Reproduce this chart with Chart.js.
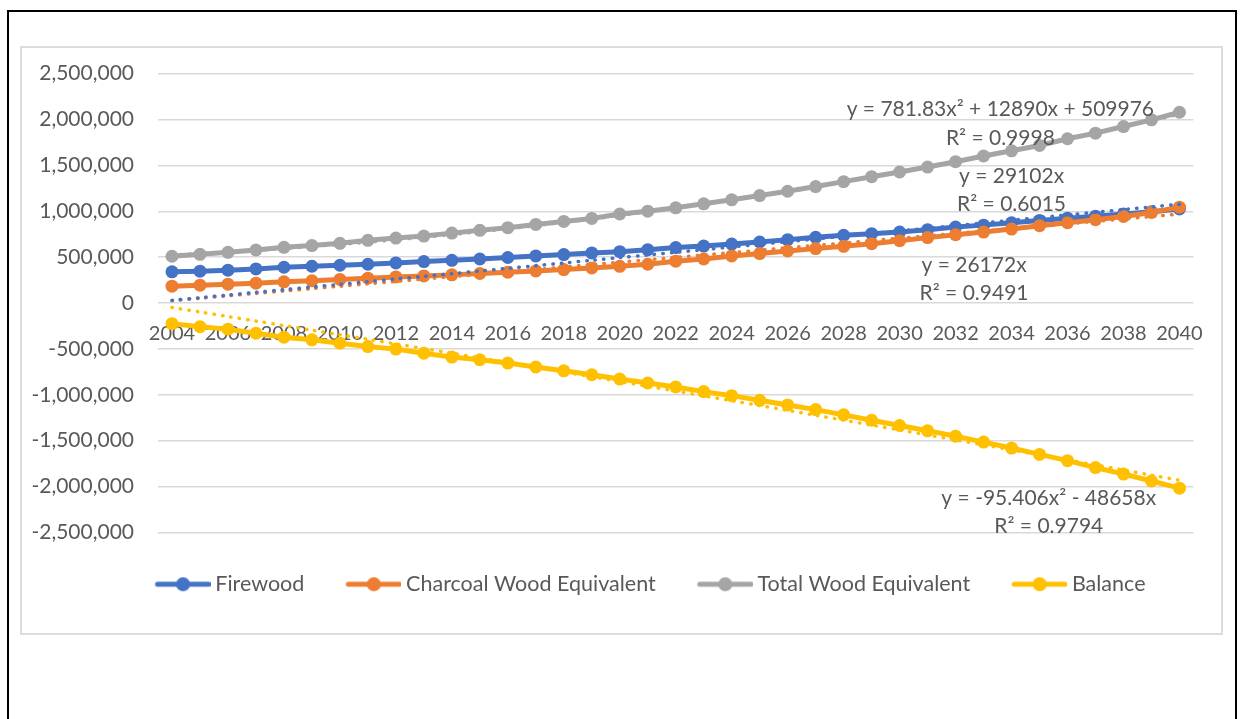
<!DOCTYPE html>
<html>
<head>
<meta charset="utf-8">
<script src="https://cdn.jsdelivr.net/npm/chart.js@4.4.1/dist/chart.umd.min.js"></script>
<style>
  body { margin: 0; background: #fff; }
  #frame { position: absolute; left: 7px; top: 10px; width: 1226px; height: 760px; border: 2px solid #000; }
  #box { position: absolute; left: 20px; top: 46px; width: 1199px; height: 585px; border: 2px solid #dcdcdc; }
  #box canvas { position: absolute; left: 0; top: -11px; }
</style>
</head>
<body>
<div id="frame"></div>
<div id="box"><canvas id="woodChart" width="1199" height="598"></canvas></div>
<script>
// categories
const years = [2004, 2005, 2006, 2007, 2008, 2009, 2010, 2011, 2012, 2013, 2014, 2015, 2016,
  2017, 2018, 2019, 2020, 2021, 2022, 2023, 2024, 2025, 2026, 2027, 2028, 2029, 2030,
  2031, 2032, 2033, 2034, 2035, 2036, 2037, 2038, 2039, 2040];

// series values
const firewood = [340000, 347000, 358000, 372000, 390000, 401000, 412000, 423000, 437000, 452000,
  466000, 480000, 496000, 513000, 528000, 546000, 560000, 582000, 604000, 621000, 643000, 665000,
  691000, 716000, 738000, 756000, 773000, 799000, 828000, 849000, 875000, 900000, 925000, 947000,
  969000, 994000, 1025000];
const charcoal = [184000, 195000, 206000, 217000, 231000, 242000, 257000, 271000, 285000, 296000,
  307000, 322000, 336000, 350000, 365000, 383000, 400000, 423000, 456000, 480000, 513000, 539000,
  567000, 593000, 618000, 647000, 680000, 713000, 745000, 773000, 806000, 843000, 875000, 908000,
  944000, 987000, 1045000];
const totalWood = [510000, 531000, 553000, 578000, 607000, 626000, 651000, 683000, 708000, 730000,
  762000, 792000, 821000, 857000, 889000, 922000, 970000, 1001000, 1038000, 1081000, 1125000,
  1171000, 1218000, 1269000, 1323000, 1377000, 1428000, 1482000, 1540000, 1602000, 1659000,
  1717000, 1790000, 1851000, 1923000, 1996000, 2079000];
const balance = [-225000, -257000, -285000, -329000, -372000, -401000, -437000, -474000, -502000,
  -546000, -589000, -618000, -654000, -697000, -738000, -781000, -828000, -871000, -914000,
  -965000, -1009000, -1060000, -1110000, -1161000, -1218000, -1277000, -1334000, -1392000,
  -1450000, -1515000, -1580000, -1649000, -1717000, -1793000, -1863000, -1939000, -2017000];

// trendline coefficients as printed on the chart: [constant, x, x^2]
const firewoodTrend = [0, 29102, 0];
const charcoalTrend = [0, 26172, 0];
const totalTrend = [509976, 12890, 781.83];
const balanceTrend = [0, -48658, -95.406];

const yTicks = [-2500000, -2000000, -1500000, -1000000, -500000, 0, 500000, 1000000, 1500000, 2000000, 2500000];

const colors = ["#4472C4", "#ED7D31", "#A5A5A5", "#FFC000"];
const names = ["Firewood", "Charcoal Wood Equivalent", "Total Wood Equivalent", "Balance"];
const textColor = "#595959";
const fontFamily = "Lato, 'Liberation Sans', sans-serif";

function trend(coef) {
  return years.map((y, i) => {
    const x = i + 1;
    return coef[0] + coef[1] * x + coef[2] * x * x;
  });
}

// legend icon: line with a dot in the middle
function legendIcon(color) {
  const c = document.createElement("canvas");
  c.width = 62; c.height = 18;
  const g = c.getContext("2d");
  g.strokeStyle = color;
  g.lineWidth = 5;
  g.lineCap = "round";
  g.beginPath(); g.moveTo(9, 9); g.lineTo(60, 9); g.stroke();
  g.fillStyle = color;
  g.beginPath(); g.arc(34.5, 9, 7, 0, Math.PI * 2); g.fill();
  return c;
}
const icons = colors.map(legendIcon);

function seriesSet(i, data, order) {
  return {
    label: names[i], data: data, borderColor: colors[i], backgroundColor: colors[i],
    borderWidth: 5, pointRadius: 6.5, pointHoverRadius: 7, pointBorderWidth: 0,
    pointBackgroundColor: colors[i], tension: 0, order: order
  };
}
function trendSet(i, coef) {
  return {
    label: names[i] + " trend", data: trend(coef), borderColor: colors[i],
    borderWidth: 3.5, borderDash: [0.5, 8], borderCapStyle: "round",
    pointRadius: 0, tension: 0.3, order: 0
  };
}

// trendline equation labels: [text, x index, y value]
const eqLabels = [
  ["y = 781.83x² + 12890x + 509976", 29.6, 2115000],
  ["R² = 0.9998", 29.6, 1800000],
  ["y = 29102x", 30.0, 1377000],
  ["R² = 0.6015", 30.0, 1074000],
  ["y = 26172x", 28.66, 412000],
  ["R² = 0.9491", 28.66, 108000],
  ["y = -95.406x² - 48658x", 31.33, -2126000],
  ["R² = 0.9794", 31.33, -2430000]
];

const eqPlugin = {
  id: "eqPlugin",
  afterDatasetsDraw(chart) {
    const ctx = chart.ctx;
    const xs = chart.scales.x, ys = chart.scales.y;
    ctx.save();
    ctx.font = "21px " + fontFamily;
    ctx.fillStyle = textColor;
    ctx.textAlign = "center";
    ctx.textBaseline = "middle";
    eqLabels.forEach(l => {
      ctx.fillText(l[0], xs.getPixelForValue(l[1]), ys.getPixelForValue(l[2]));
    });
    ctx.restore();
  }
};

// excel centres the legend a bit right of the canvas middle
const legendShift = {
  id: "legendShift",
  afterLayout(chart) {
    chart.legend.left += 41;
    chart.legend.right += 41;
  }
};

const ctx = document.getElementById("woodChart").getContext("2d");
const woodChart = new Chart(ctx, {
  type: "line",
  data: {
    labels: years,
    datasets: [
      seriesSet(0, firewood, 4),
      seriesSet(1, charcoal, 3),
      seriesSet(2, totalWood, 2),
      seriesSet(3, balance, 1),
      trendSet(0, firewoodTrend),
      trendSet(1, charcoalTrend),
      trendSet(2, totalTrend),
      trendSet(3, balanceTrend)
    ]
  },
  options: {
    responsive: false,
    animation: false,
    layout: { padding: { left: 0, right: 25, top: 13, bottom: 30 } },
    plugins: {
      tooltip: { enabled: false },
      legend: {
        position: "bottom",
        labels: {
          usePointStyle: true,
          pointStyleWidth: 50,
          padding: 41,
          color: textColor,
          font: { family: fontFamily, size: 21.5 },
          filter: item => item.datasetIndex < 4,
          sort: (a, b) => a.datasetIndex - b.datasetIndex,
          generateLabels: function (chart) {
            const items = Chart.defaults.plugins.legend.labels.generateLabels(chart);
            items.forEach(it => { if (it.datasetIndex < 4) it.pointStyle = icons[it.datasetIndex]; });
            return items;
          }
        }
      }
    },
    scales: {
      x: {
        position: { y: 0 },
        offset: true,
        grid: { display: false, drawTicks: false },
        border: { display: false },
        ticks: {
          autoSkip: false, maxRotation: 0, padding: 18,
          color: textColor, font: { family: fontFamily, size: 20 },
          callback: function (val, i) { return i % 2 === 0 ? this.getLabelForValue(val) : ""; }
        }
      },
      y: {
        min: -2500000, max: 2500000,
        afterFit: s => { s.width = 136; },
        afterBuildTicks: s => { s.ticks = yTicks.map(v => ({ value: v })); },
        grid: { color: "#d9d9d9", lineWidth: 1.5, drawTicks: false },
        border: { display: false },
        ticks: {
          padding: 24, color: textColor, font: { family: fontFamily, size: 21 },
          callback: v => v.toLocaleString("en-US")
        }
      }
    }
  },
  plugins: [eqPlugin, legendShift]
});
</script>
</body>
</html>
